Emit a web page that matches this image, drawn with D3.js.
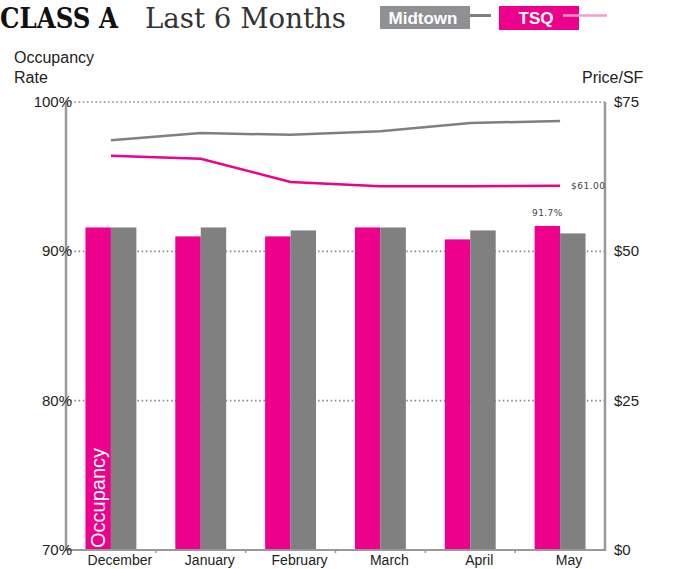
<!DOCTYPE html>
<html><head><meta charset="utf-8">
<script src="https://cdn.jsdelivr.net/npm/d3@7"></script>
<style>body{margin:0;background:#fff}svg{display:block}</style>
</head><body>
<script>
const months = ["December","January","February","March","April","May"];
const series = ["TSQ","Midtown"];
const tsqOcc = [91.6, 91.0, 91.0, 91.6, 90.8, 91.7];
const midOcc = [91.6, 91.6, 91.4, 91.6, 91.4, 91.2];
const tsqPrice = [66.0, 65.5, 61.6, 60.9, 60.9, 61.0];
const midPrice = [68.6, 69.8, 69.5, 70.1, 71.5, 71.8];
const occTicks = [70, 80, 90, 100];
const priceTicks = [0, 25, 50, 75];

(function(){
const W = 683, H = 569;
const pLeft = 66, pRight = 605, pTop = 102, pBottom = 550;
const pink = "#EC008C", gray = "#808080", axisGray = "#999999";

const svg = d3.select("body").append("svg").attr("width", W).attr("height", H);

const x0 = d3.scaleBand().domain(months).range([pLeft, pRight]).padding(0);
const x1 = d3.scaleBand().domain(series).range([0, x0.bandwidth()]).paddingInner(0).paddingOuter(0.765);
const yOcc = d3.scaleLinear().domain([70, 100]).range([pBottom, pTop]);
const yPrice = d3.scaleLinear().domain([0, 75]).range([pBottom, pTop]);

// gridlines
svg.append("g").selectAll("line").data(occTicks.filter(d => d > 70)).join("line")
  .attr("x1", pLeft).attr("x2", pRight)
  .attr("y1", d => yOcc(d)).attr("y2", d => yOcc(d))
  .attr("stroke", "#8a8a8a").attr("stroke-width", 1.6).attr("stroke-dasharray", "1.6,2.6");

// bars
const occ = {TSQ: tsqOcc, Midtown: midOcc};
const colors = {TSQ: pink, Midtown: gray};
const g = svg.append("g");
months.forEach((m, i) => {
  series.forEach(s => {
    g.append("rect")
      .attr("x", x0(m) + x1(s)).attr("width", x1.bandwidth())
      .attr("y", yOcc(occ[s][i])).attr("height", pBottom - yOcc(occ[s][i]))
      .attr("fill", colors[s]);
  });
});

// Occupancy label inside first bar
svg.append("text")
  .attr("transform", `translate(${x0(months[0]) + x1("TSQ") + x1.bandwidth()/2 + 7},${pBottom - 2}) rotate(-90)`)
  .attr("font-family", "Liberation Sans, Arial, sans-serif").attr("font-size", 20)
  .attr("fill", "#fff").text("Occupancy");

// lines
const line = d3.line().x((d, i) => x0(months[i]) + x0.bandwidth()/2).y(d => yPrice(d));
svg.append("path").datum(midPrice).attr("d", line).attr("fill", "none").attr("stroke", gray).attr("stroke-width", 2.5);
svg.append("path").datum(tsqPrice).attr("d", line).attr("fill", "none").attr("stroke", pink).attr("stroke-width", 2.5);

// axes
const ax = svg.append("g").attr("stroke", axisGray).attr("stroke-width", 2.5);
ax.append("line").attr("x1", pLeft).attr("x2", pLeft).attr("y1", pTop).attr("y2", pBottom + 1);
ax.append("line").attr("x1", pRight).attr("x2", pRight).attr("y1", pTop).attr("y2", pBottom + 1);
ax.append("line").attr("x1", pLeft).attr("x2", pRight).attr("y1", pBottom).attr("y2", pBottom).attr("stroke-width", 2);
svg.append("g").selectAll("line").data(months.slice(1)).join("line")
  .attr("x1", d => x0(d)).attr("x2", d => x0(d)).attr("y1", pBottom).attr("y2", pBottom + 3)
  .attr("stroke", axisGray).attr("stroke-width", 1.5);

// value labels
svg.append("text").attr("x", x0("May") + x0.bandwidth()/2 + 11).attr("y", yPrice(tsqPrice[5]) + 3.5)
  .attr("font-family", "DejaVu Sans, sans-serif").attr("font-size", 9).attr("letter-spacing", 0.5).attr("fill", "#444")
  .text("$" + tsqPrice[5].toFixed(2));
svg.append("text").attr("x", x0("May") + x1("TSQ") + x1.bandwidth()/2).attr("y", yOcc(tsqOcc[5]) - 10)
  .attr("text-anchor", "middle")
  .attr("font-family", "DejaVu Sans, sans-serif").attr("font-size", 9).attr("letter-spacing", 0.4).attr("fill", "#444")
  .text(tsqOcc[5].toFixed(1) + "%");

// left tick labels
svg.append("g").selectAll("text").data(occTicks).join("text")
  .attr("x", pLeft + 6).attr("y", d => yOcc(d) + 5).attr("text-anchor", "end")
  .attr("font-family", "Liberation Sans, Arial, sans-serif").attr("font-size", 15).attr("fill", "#222")
  .text(d => d + "%");
// right tick labels
svg.append("g").selectAll("text").data(priceTicks).join("text")
  .attr("x", pRight + 9).attr("y", d => yPrice(d) + 5)
  .attr("font-family", "Liberation Sans, Arial, sans-serif").attr("font-size", 15).attr("fill", "#222")
  .text(d => "$" + d);
// x labels
svg.append("g").selectAll("text").data(months).join("text")
  .attr("x", d => x0(d) + x0.bandwidth()/2 + 9).attr("y", pBottom + 15).attr("text-anchor", "middle")
  .attr("font-family", "Liberation Sans, Arial, sans-serif").attr("font-size", 14).attr("fill", "#222")
  .text(d => d);

// axis titles
const at = svg.append("g").attr("font-family", "Liberation Sans, Arial, sans-serif").attr("font-size", 16).attr("fill", "#222");
at.append("text").attr("x", 14).attr("y", 63).text("Occupancy");
at.append("text").attr("x", 14).attr("y", 83).text("Rate");
at.append("text").attr("x", 582).attr("y", 83).text("Price/SF");

// title
svg.append("text").attr("x", 0).attr("y", 28)
  .attr("font-family", "DejaVu Serif, serif").attr("font-weight", "bold").attr("font-size", 27)
  .attr("textLength", 118).attr("lengthAdjust", "spacingAndGlyphs").attr("fill", "#111").text("CLASS A");
svg.append("text").attr("x", 145).attr("y", 28)
  .attr("font-family", "DejaVu Serif, serif").attr("font-weight", 300).attr("font-size", 27)
  .attr("textLength", 201).attr("lengthAdjust", "spacingAndGlyphs").attr("fill", "#333").text("Last 6 Months");

// legend
const lg = svg.append("g");
lg.append("rect").attr("x", 380).attr("y", 6).attr("width", 90).attr("height", 23).attr("fill", "#8e9093");
lg.append("text").attr("x", 423).attr("y", 24).attr("text-anchor", "middle")
  .attr("font-family", "Liberation Sans, Arial, sans-serif").attr("font-weight", "bold").attr("font-size", 17)
  .attr("fill", "#fff").text("Midtown");
lg.append("line").attr("x1", 470).attr("x2", 491).attr("y1", 15.5).attr("y2", 15.5).attr("stroke", gray).attr("stroke-width", 3);
lg.append("rect").attr("x", 499).attr("y", 6).attr("width", 80).attr("height", 24).attr("fill", pink);
lg.append("text").attr("x", 536).attr("y", 24).attr("text-anchor", "middle")
  .attr("font-family", "Liberation Sans, Arial, sans-serif").attr("font-weight", "bold").attr("font-size", 17)
  .attr("fill", "#fff").text("TSQ");
lg.append("line").attr("x1", 563).attr("x2", 607).attr("y1", 15.5).attr("y2", 15.5).attr("stroke", "#f79bc8").attr("stroke-width", 2.5);
})();
</script>
</body></html>
